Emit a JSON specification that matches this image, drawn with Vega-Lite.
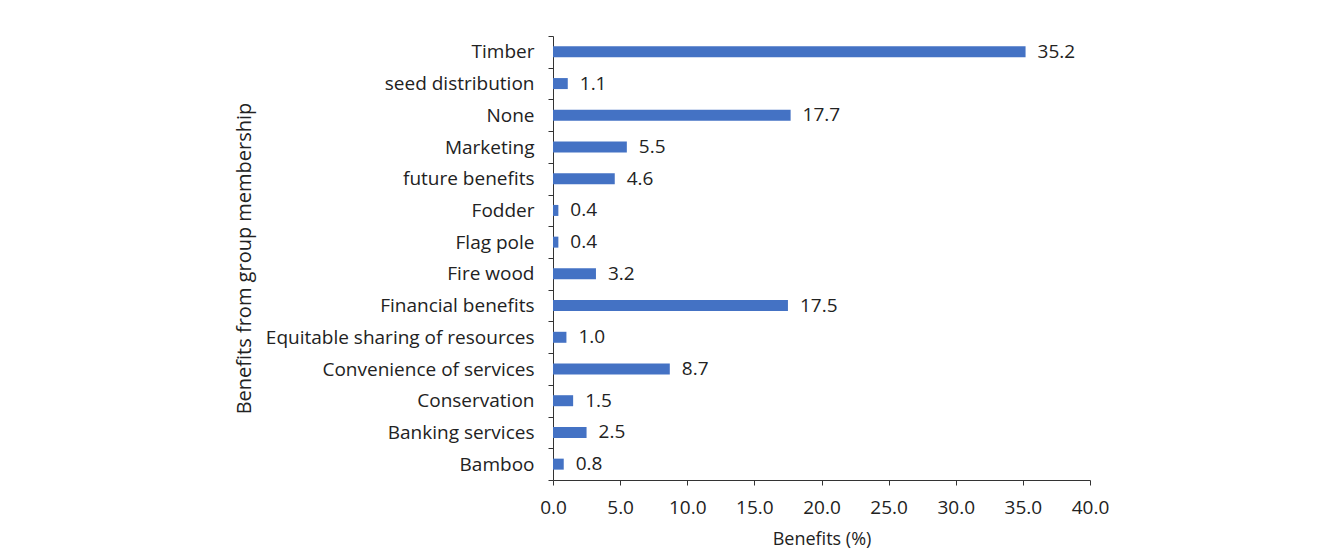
{
  "$schema": "https://vega.github.io/schema/vega-lite/v6.json",
  "width": 537,
  "height": 444,
  "autosize": {"type": "none"},
  "padding": {"left": 553, "top": 36, "right": 236, "bottom": 78},
  "background": "white",
  "config": {"view": {"stroke": null}, "font": "Open Sans"},
  "data": {
    "values": [
      {"Benefit": "Timber", "Value": 35.2},
      {"Benefit": "seed distribution", "Value": 1.1},
      {"Benefit": "None", "Value": 17.7},
      {"Benefit": "Marketing", "Value": 5.5},
      {"Benefit": "future benefits", "Value": 4.6},
      {"Benefit": "Fodder", "Value": 0.4},
      {"Benefit": "Flag pole", "Value": 0.4},
      {"Benefit": "Fire wood", "Value": 3.2},
      {"Benefit": "Financial benefits", "Value": 17.5},
      {"Benefit": "Equitable sharing of resources", "Value": 1.0},
      {"Benefit": "Convenience of services", "Value": 8.7},
      {"Benefit": "Conservation", "Value": 1.5},
      {"Benefit": "Banking services", "Value": 2.5},
      {"Benefit": "Bamboo", "Value": 0.8}
    ]
  },
  "encoding": {
    "y": {
      "field": "Benefit",
      "type": "nominal",
      "sort": null,
      "scale": {"paddingInner": 0, "paddingOuter": 0},
      "axis": {
        "title": "Benefits from group membership",
        "titleFontSize": 20,
        "titleFontWeight": "normal",
        "titleColor": "#222",
        "titleX": -299,
        "labelFontSize": 19,
        "labelColor": "#222",
        "labelPadding": 14,
        "tickBand": "extent",
        "tickSize": 5,
        "tickColor": "#333",
        "domainColor": "#333",
        "labelLimit": 400
      }
    },
    "x": {
      "field": "Value",
      "type": "quantitative",
      "scale": {"domain": [0, 40], "nice": false},
      "axis": {
        "title": "Benefits (%)",
        "titleFontSize": 18,
        "titleFontWeight": "normal",
        "titleColor": "#222",
        "titlePadding": 13,
        "values": [0, 5, 10, 15, 20, 25, 30, 35, 40],
        "format": ".1f",
        "labelFontSize": 19,
        "labelColor": "#222",
        "labelPadding": 13,
        "labelFlush": false,
        "labelOverlap": false,
        "tickSize": 5,
        "tickColor": "#333",
        "domainColor": "#333",
        "grid": false
      }
    }
  },
  "layer": [
    {"mark": {"type": "bar", "height": 11, "color": "#4472C4"}},
    {
      "mark": {"type": "text", "align": "left", "baseline": "middle", "dx": 12, "fontSize": 19, "color": "#222"},
      "encoding": {"text": {"field": "Value", "type": "quantitative", "format": ".1f"}}
    }
  ]
}
